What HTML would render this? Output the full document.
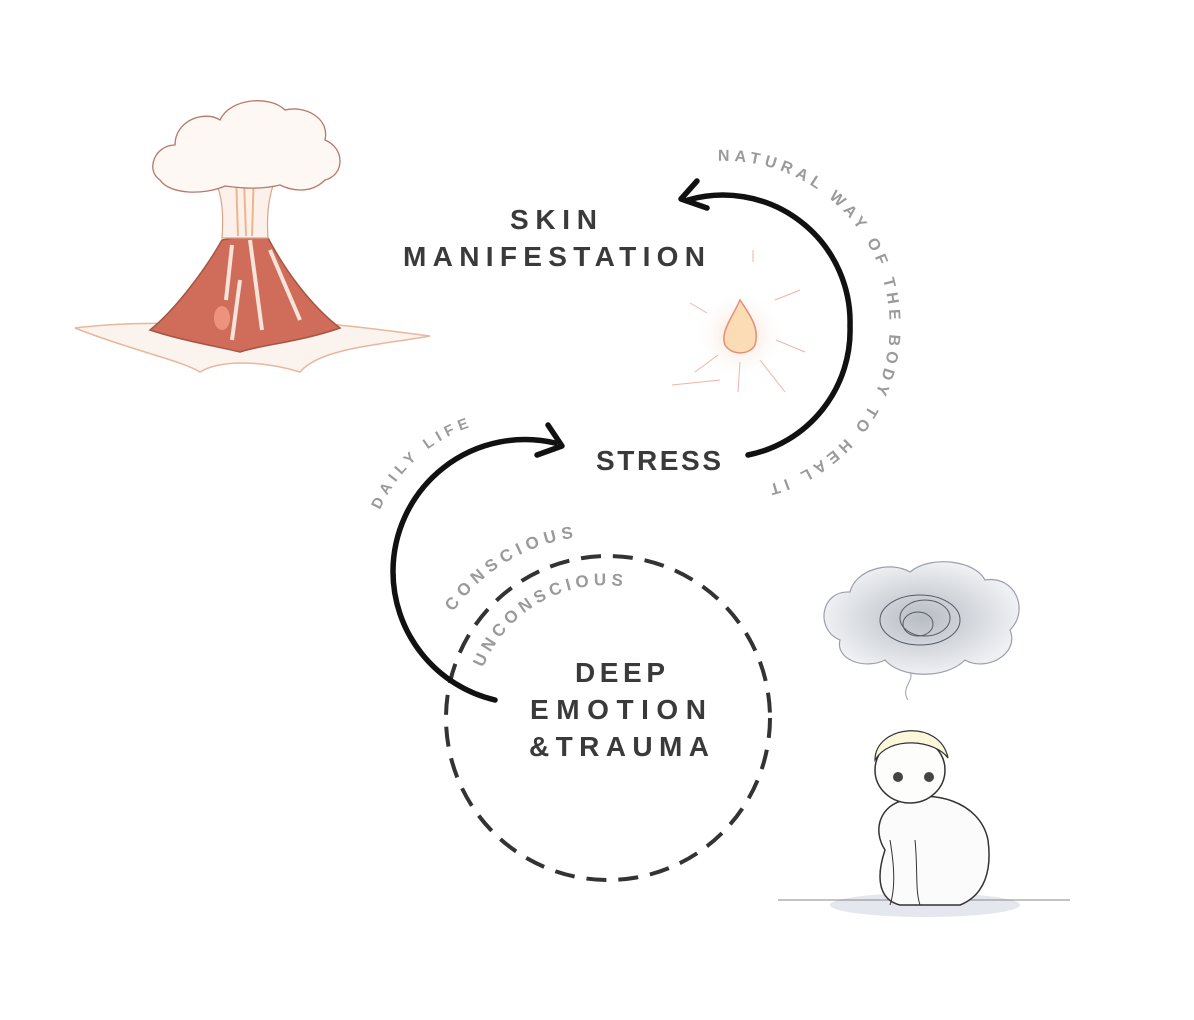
<!DOCTYPE html>
<html><head><meta charset="utf-8"><style>
html,body{margin:0;padding:0;background:#fff;}
svg{display:block;}
.lbl{font-family:"Liberation Sans",sans-serif;font-weight:bold;fill:#3a3a3a;font-size:28px;}
.arc{font-family:"Liberation Sans",sans-serif;font-weight:bold;fill:#9a9a9a;font-size:15px;letter-spacing:5px;}
</style></head><body>
<svg width="1194" height="1020" viewBox="0 0 1194 1020" xmlns="http://www.w3.org/2000/svg">
<defs>
<radialGradient id="glow" cx="0.5" cy="0.5" r="0.5"><stop offset="0" stop-color="#f7d9c8"/><stop offset="1" stop-color="#fff" stop-opacity="0"/></radialGradient>
<radialGradient id="cloud" cx="0.5" cy="0.5" r="0.5"><stop offset="0" stop-color="#b8bcc4"/><stop offset="1" stop-color="#eef0f3"/></radialGradient>
<path id="pNat" d="M718,161 A165,165 0 1 1 694,488"/>
<path id="pDaily" d="M380,510 A152,152 0 0 1 525,419"/>
<path id="pCon" d="M453,612 A180,180 0 0 1 650,543"/>
<path id="pUn" d="M483,668 A132,132 0 0 1 660,597"/>
</defs>

<!-- volcano -->
<g>
<path d="M75,328 C140,320 200,325 260,322 C320,320 380,330 430,336 C380,345 320,348 300,372 C260,360 220,360 200,372 C180,360 130,350 75,328Z" fill="#fbf3ee" stroke="#e8b79c" stroke-width="1.5"/>
<path d="M150,330 C175,310 205,270 222,240 L245,236 L268,238 C285,270 310,305 340,328 C300,342 260,345 240,352 C210,345 180,340 150,330Z" fill="#cf6d5a" stroke="#a65544" stroke-width="1.5"/>
<path d="M232,245 L226,300 M250,240 L262,330 M270,250 L300,320 M240,280 L232,340" stroke="#f6e4da" stroke-width="4" fill="none"/>
<path d="M222,238 C225,200 218,180 205,165 L285,165 C270,180 266,210 268,238 Z" fill="#fbf1ea" stroke="#d7a48c" stroke-width="1.2"/>
<path d="M238,236 L236,175 M252,236 L254,170 M246,236 L244,180" stroke="#eeb48e" stroke-width="2"/>
<path d="M160,180 C145,170 155,145 175,145 C175,120 205,110 220,120 C230,98 270,95 285,110 C305,105 330,118 325,140 C345,148 345,175 325,180 C310,195 290,190 280,185 C260,190 240,188 225,186 C205,195 170,195 160,180Z" fill="#fdf8f4" stroke="#b7786a" stroke-width="1.3"/>
<ellipse cx="222" cy="318" rx="8" ry="12" fill="#f29b86" opacity="0.8"/>
</g>

<!-- pimple -->
<circle cx="740" cy="335" r="45" fill="url(#glow)"/>
<path d="M740,300 C750,315 760,328 755,345 C750,355 732,356 725,345 C720,332 732,318 740,300Z" fill="#fbdcb4" stroke="#e2907a" stroke-width="1.5"/>
<g stroke="#f0b4a8" stroke-width="1" fill="none">
<path d="M707,313 L690,303 M775,300 L800,290 M776,340 L805,352 M718,355 L695,372 M740,362 L738,392 M760,360 L785,392 M753,262 L753,250 M720,380 L672,385"/>
</g>

<!-- child -->
<g>
<path d="M840,640 C815,630 820,590 850,592 C855,570 890,560 910,572 C930,555 975,560 985,580 C1015,575 1030,610 1010,630 C1020,655 985,672 965,660 C945,680 900,678 885,660 C865,670 835,660 840,640Z" fill="url(#cloud)" stroke="#9aa0aa" stroke-width="1.2"/>
<g stroke="#555c66" stroke-width="1" fill="none"><ellipse cx="920" cy="620" rx="40" ry="25"/><ellipse cx="925" cy="618" rx="25" ry="18"/><ellipse cx="918" cy="624" rx="15" ry="12"/></g>
<path d="M910,672 C915,680 900,688 908,700" stroke="#9aa0aa" fill="none"/>
<ellipse cx="925" cy="905" rx="95" ry="12" fill="#e4e7ee"/>
<line x1="778" y1="900" x2="1070" y2="900" stroke="#888" stroke-width="1"/>
<path d="M905,800 C930,790 980,800 988,840 C992,870 985,895 960,905 L900,905 C880,900 875,880 885,850 C872,830 880,805 905,800Z" fill="#fbfbfc" stroke="#333" stroke-width="1.5"/>
<ellipse cx="910" cy="770" rx="35" ry="33" fill="#fdfdfb" stroke="#333" stroke-width="1.5"/>
<path d="M875,760 C875,725 940,718 948,758 C935,740 890,735 875,760Z" fill="#fbf6dc" stroke="#333" stroke-width="1.2"/>
<circle cx="898" cy="777" r="5" fill="#444"/><circle cx="929" cy="777" r="5" fill="#444"/>
<path d="M890,840 C895,870 895,890 890,905 M915,840 C918,870 915,890 920,905" stroke="#333" fill="none"/>
</g>

<!-- dashed circle -->
<circle cx="608" cy="718" r="162" fill="none" stroke="#333" stroke-width="4" stroke-dasharray="20 12"/>

<!-- arrows -->
<path d="M748,455 A127,127 0 0 0 850,326 A127,127 0 0 0 688,200" fill="none" stroke="#111" stroke-width="5.5" stroke-linecap="round"/>
<path d="M697,181 L681,199 L707,208" fill="none" stroke="#111" stroke-width="5.5" stroke-linecap="round" stroke-linejoin="round"/>
<path d="M495,700 A132,132 0 0 1 393,571 A132,132 0 0 1 555,443" fill="none" stroke="#111" stroke-width="5.5" stroke-linecap="round"/>
<path d="M548,425 L562,446 L537,455" fill="none" stroke="#111" stroke-width="5.5" stroke-linecap="round" stroke-linejoin="round"/>

<!-- arc texts -->
<text class="arc" style="letter-spacing:4.8px;font-size:16px"><textPath href="#pNat">NATURAL WAY OF THE BODY TO HEAL IT</textPath></text>
<text class="arc" style="letter-spacing:5px"><textPath href="#pDaily">DAILY LIFE</textPath></text>
<text class="arc" style="font-size:17px;letter-spacing:5.3px"><textPath href="#pCon">CONSCIOUS</textPath></text>
<text class="arc" style="font-size:17px;letter-spacing:4.6px"><textPath href="#pUn">UNCONSCIOUS</textPath></text>

<!-- labels -->
<text class="lbl" x="510" y="229" textLength="87" lengthAdjust="spacing">SKIN</text>
<text class="lbl" x="403" y="266" textLength="302" lengthAdjust="spacing">MANIFESTATION</text>
<text class="lbl" x="596" y="470" textLength="125" lengthAdjust="spacing">STRESS</text>
<text class="lbl" x="575" y="682" textLength="90" lengthAdjust="spacing">DEEP</text>
<text class="lbl" x="530" y="719" textLength="176" lengthAdjust="spacing">EMOTION</text>
<text class="lbl" x="529" y="756" textLength="180" lengthAdjust="spacing">&amp;TRAUMA</text>
</svg>
</body></html>
